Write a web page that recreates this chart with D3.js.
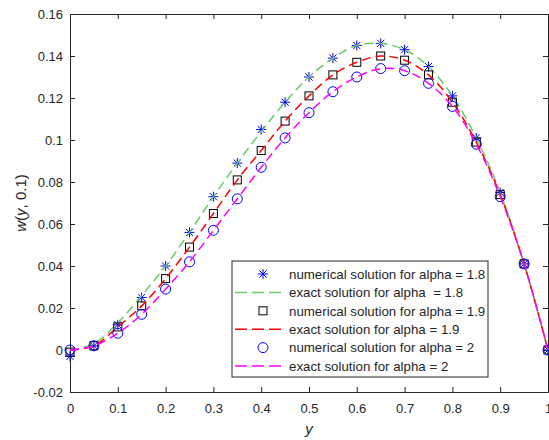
<!DOCTYPE html>
<html>
<head>
<meta charset="utf-8">
<script src="https://cdn.jsdelivr.net/npm/d3@7"></script>
<style>
  body { margin: 0; background: #fff; }
  svg text { font-family: "Liberation Sans", Arial, sans-serif; fill: #262626; }
</style>
</head>
<body>
<div id="chart"></div>
<script>
// Puntos en y (0 a 1, paso 0.05)
const yPoints = [0, 0.05, 0.1, 0.15, 0.2, 0.25, 0.3, 0.35, 0.4, 0.45, 0.5,
                 0.55, 0.6, 0.65, 0.7, 0.75, 0.8, 0.85, 0.9, 0.95, 1];

// Soluciones numericas
const num18 = [-0.003, 0.002, 0.012, 0.025, 0.040, 0.056, 0.073, 0.089, 0.105, 0.118, 0.130,
               0.139, 0.145, 0.146, 0.143, 0.135, 0.121, 0.101, 0.075, 0.041, 0];
const num19 = [-0.001, 0.002, 0.011, 0.021, 0.034, 0.049, 0.065, 0.081, 0.095, 0.109, 0.121,
               0.131, 0.137, 0.140, 0.138, 0.131, 0.118, 0.099, 0.074, 0.041, 0];
const num20 = [0.000, 0.002, 0.008, 0.017, 0.029, 0.042, 0.057, 0.072, 0.087, 0.101, 0.113,
               0.123, 0.130, 0.134, 0.133, 0.127, 0.116, 0.098, 0.073, 0.041, 0];

// Soluciones exactas
const exact18 = [0, 0.003, 0.013, 0.026, 0.040, 0.056, 0.073, 0.089, 0.104, 0.118, 0.130,
                 0.139, 0.145, 0.146, 0.143, 0.135, 0.121, 0.101, 0.075, 0.041, 0];
const exact19 = [0, 0.002, 0.011, 0.021, 0.034, 0.049, 0.065, 0.081, 0.095, 0.109, 0.121,
                 0.131, 0.137, 0.140, 0.138, 0.131, 0.118, 0.099, 0.074, 0.041, 0];
const exact20 = [0, 0.002, 0.008, 0.017, 0.029, 0.042, 0.057, 0.072, 0.087, 0.101, 0.113,
                 0.123, 0.130, 0.134, 0.133, 0.127, 0.116, 0.098, 0.073, 0.041, 0];

const xTicks = [0, 0.1, 0.2, 0.3, 0.4, 0.5, 0.6, 0.7, 0.8, 0.9, 1];
const yTicks = [-0.02, 0, 0.02, 0.04, 0.06, 0.08, 0.1, 0.12, 0.14, 0.16];

const legendLabels = [
  "numerical solution for alpha = 1.8",
  "exact solution for alpha  = 1.8",
  "numerical solution for alpha = 1.9",
  "exact solution for alpha = 1.9",
  "numerical solution for alpha = 2",
  "exact solution for alpha = 2"
];

const margin = { top: 14, right: 1, bottom: 48, left: 70 },
    W = 549, H = 440,
    width = W - margin.left - margin.right,
    height = H - margin.top - margin.bottom;

const svg = d3.select("#chart").append("svg")
    .attr("width", W).attr("height", H);

const g = svg.append("g")
    .attr("transform", `translate(${margin.left},${margin.top})`);

const x = d3.scaleLinear().domain([0, 1]).range([0, width]);
const y = d3.scaleLinear().domain([-0.02, 0.16]).range([height, 0]);

const axisColor = "#262626";
const fmt = d => String(+d.toFixed(2));

// Ejes (ticks hacia dentro, caja completa)
const ax = g.append("g").attr("transform", `translate(0,${height})`)
    .call(d3.axisBottom(x).tickValues(xTicks).tickFormat(fmt).tickSizeInner(-5).tickSizeOuter(0).tickPadding(12));
const axTop = g.append("g")
    .call(d3.axisTop(x).tickValues(xTicks).tickFormat("").tickSizeInner(-5).tickSizeOuter(0));
const ay = g.append("g")
    .call(d3.axisLeft(y).tickValues(yTicks).tickFormat(fmt).tickSizeInner(-5).tickSizeOuter(0).tickPadding(7));
const ayR = g.append("g").attr("transform", `translate(${width},0)`)
    .call(d3.axisRight(y).tickValues(yTicks).tickFormat("").tickSizeInner(-5).tickSizeOuter(0));

[ax, axTop, ay, ayR].forEach(a => {
  a.selectAll("path, line").attr("stroke", axisColor).attr("stroke-width", 1);
  a.selectAll("text").style("font-size", "13px").attr("fill", axisColor);
});

// Marcadores
function star(sel, s) {
  const r = s / 2, d = r * 0.72;
  sel.append("path")
    .attr("d", `M0,${-r}V${r}M${-r},0H${r}M${-d},${-d}L${d},${d}M${-d},${d}L${d},${-d}`)
    .attr("stroke", "#0000ff").attr("stroke-width", 1).attr("fill", "none");
}
function square(sel, s) {
  sel.append("rect").attr("x", -s / 2).attr("y", -s / 2).attr("width", s).attr("height", s)
    .attr("stroke", "#000").attr("stroke-width", 1).attr("fill", "none");
}
function circle(sel, s) {
  sel.append("circle").attr("r", s / 2)
    .attr("stroke", "#0000ff").attr("stroke-width", 1).attr("fill", "none");
}

const line = vals => d3.line()
    .x((d, i) => x(yPoints[i]))
    .y(d => y(d))
    .curve(d3.curveCatmullRom)(vals);

const series = [
  { type: "marker", vals: num18, draw: star, size: 10 },
  { type: "line", vals: exact18, color: "#66cc66" },
  { type: "marker", vals: num19, draw: square, size: 8 },
  { type: "line", vals: exact19, color: "#ff0000" },
  { type: "marker", vals: num20, draw: circle, size: 10 },
  { type: "line", vals: exact20, color: "#ff00ff" }
];

series.forEach(s => {
  if (s.type === "line") {
    g.append("path").attr("d", line(s.vals))
      .attr("fill", "none").attr("stroke", s.color)
      .attr("stroke-width", 1.5).attr("stroke-dasharray", "9,5");
  } else {
    s.vals.forEach((v, i) => {
      const m = g.append("g").attr("transform", `translate(${x(yPoints[i])},${y(v)})`);
      s.draw(m, s.size);
    });
  }
});

// Leyenda
const lg = svg.append("g").attr("transform", "translate(232,261)");
lg.append("rect").attr("width", 256).attr("height", 116)
  .attr("fill", "#fff").attr("stroke", axisColor).attr("stroke-width", 1);

series.forEach((s, i) => {
  const cy = 13 + i * 18.4;
  if (s.type === "line") {
    lg.append("line").attr("x1", 3).attr("x2", 51).attr("y1", cy).attr("y2", cy)
      .attr("stroke", s.color).attr("stroke-width", 1.5).attr("stroke-dasharray", "12,5");
  } else {
    const m = lg.append("g").attr("transform", `translate(31,${cy})`);
    s.draw(m, s.size);
  }
  lg.append("text").attr("x", 57).attr("y", cy + 4.8)
    .style("font-size", "13.3px").style("white-space", "pre").text(legendLabels[i]);
});

// Etiquetas de ejes
svg.append("text")
  .attr("x", margin.left + width / 2).attr("y", 434)
  .attr("text-anchor", "middle").style("font-size", "15px").style("font-style", "italic")
  .text("y");

const yl = svg.append("text")
  .attr("transform", `translate(26,${margin.top + height / 2}) rotate(-90)`)
  .attr("text-anchor", "middle").style("font-size", "15px");
yl.append("tspan").style("font-style", "italic").text("w");
yl.append("tspan").text("(");
yl.append("tspan").style("font-style", "italic").text("y");
yl.append("tspan").text(", 0.1)");
</script>
</body>
</html>
